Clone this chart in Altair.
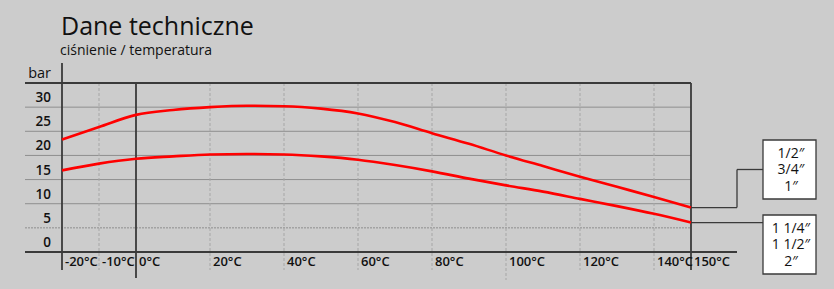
import altair as alt
import pandas as pd

# ---- data ----
temps = [-20, -10, 0, 10, 20, 30, 40, 50, 60, 70, 80, 90, 100, 110, 120, 130, 140, 150]
upper = [23.3, 25.9, 28.4, 29.4, 30.0, 30.3, 30.2, 29.7, 28.7, 26.9, 24.6, 22.4, 20.0, 17.8, 15.6, 13.5, 11.4, 9.2]
lower = [16.9, 18.3, 19.3, 19.8, 20.2, 20.3, 20.2, 19.8, 19.1, 18.0, 16.7, 15.2, 13.8, 12.5, 11.0, 9.5, 7.9, 6.1]
series_names = ["small", "large"]
box_labels = [["1/2″", "3/4″", "1″"], ["1 1/4″", "1 1/2″", "2″"]]

x_ticks = [-20, -10, 0, 20, 40, 60, 80, 100, 120, 140, 150]
x_labels = ["-20°C", "-10°C", "0°C", "20°C", "40°C", "60°C", "80°C", "100°C", "120°C", "140°C", "150°C"]
y_ticks = [0, 5, 10, 15, 20, 25, 30]
y_labels = ["0", "5", "10", "15", "20", "25", "30"]
title = "Dane techniczne"
subtitle = "ciśnienie / temperatura"
unit = "bar"

# ---- tables ----
curves = pd.DataFrame({
    "temp": temps * 2,
    "bar": upper + lower,
    "series": [series_names[0]] * len(temps) + [series_names[1]] * len(temps),
})
ends = pd.DataFrame({"series": series_names, "temp": [temps[-1]] * 2, "bar": [upper[-1], lower[-1]]})
xt = pd.DataFrame({"t": x_ticks, "label": x_labels})
yt = pd.DataFrame({"v": y_ticks, "label": y_labels})
one = pd.DataFrame({"k": [0]})

W, H = 629, 169
FONT = "Open Sans"
DARK = "#3a3a3a"
GRID = "#8e8e8e"
DASH = "#a6a6a6"

xs = alt.Scale(domain=[-20, 150], nice=False, zero=False)
ys = alt.Scale(domain=[0, 35], nice=False, zero=False)
X = alt.X("t:Q", scale=xs, axis=None)
Y = alt.Y("v:Q", scale=ys, axis=None)

layers = []

# horizontal grid lines
layers.append(alt.Chart(yt).transform_filter("datum.v >= 10").mark_rule(color=GRID, strokeWidth=1).encode(
    y=Y, x=alt.value(-37), x2=alt.value(W)))
layers.append(alt.Chart(yt).transform_filter("datum.v == 5").mark_rule(color=GRID, strokeWidth=1, strokeDash=[2, 1]).encode(
    y=Y, x=alt.value(-37), x2=alt.value(W)))

# vertical dashed grid lines
layers.append(alt.Chart(xt).transform_filter("datum.t != -20 && datum.t != 0 && datum.t != 150 && datum.t != 100")
              .mark_rule(color=DASH, strokeWidth=1, strokeDash=[3, 2]).encode(
    x=X, y=alt.value(0), y2=alt.value(187)))
layers.append(alt.Chart(xt).transform_filter("datum.t == 100")
              .mark_rule(color=DASH, strokeWidth=1, strokeDash=[3, 2]).encode(
    x=X, y=alt.value(0), y2=alt.value(197)))

# solid dark frame lines
layers.append(alt.Chart(xt).transform_filter("datum.t == -20").mark_rule(color=DARK, strokeWidth=1.8).encode(
    x=X, y=alt.value(-20), y2=alt.value(187)))
layers.append(alt.Chart(xt).transform_filter("datum.t == 0").mark_rule(color=DARK, strokeWidth=1.8).encode(
    x=X, y=alt.value(0), y2=alt.value(195)))
layers.append(alt.Chart(xt).transform_filter("datum.t == 150").mark_rule(color=DARK, strokeWidth=1.8).encode(
    x=X, y=alt.value(0), y2=alt.value(187)))
layers.append(alt.Chart(one).mark_rule(color=DARK, strokeWidth=1.8).encode(
    y=alt.value(0), x=alt.value(-37), x2=alt.value(W)))
layers.append(alt.Chart(yt).transform_filter("datum.v == 0").mark_rule(color=DARK, strokeWidth=1.8).encode(
    y=Y, x=alt.value(-37), x2=alt.value(675)))

# curves
layers.append(alt.Chart(curves).mark_line(color="#ff0000", strokeWidth=2.6, interpolate="monotone").encode(
    x=alt.X("temp:Q", scale=xs, axis=None),
    y=alt.Y("bar:Q", scale=ys, axis=None),
    detail="series:N"))

# leader lines
EY = alt.Y("bar:Q", scale=ys, axis=None)
layers.append(alt.Chart(ends).transform_filter(f"datum.series == '{series_names[0]}'")
              .mark_rule(color=DARK, strokeWidth=1.3).encode(y=EY, x=alt.value(W), x2=alt.value(675)))
layers.append(alt.Chart(ends).transform_filter(f"datum.series == '{series_names[0]}'")
              .mark_rule(color=DARK, strokeWidth=1.3).encode(x=alt.value(675), y=EY, y2=alt.value(86.5)))
layers.append(alt.Chart(one).mark_rule(color=DARK, strokeWidth=1.3).encode(
    y=alt.value(86.5), x=alt.value(675), x2=alt.value(701)))
layers.append(alt.Chart(ends).transform_filter(f"datum.series == '{series_names[1]}'")
              .mark_rule(color=DARK, strokeWidth=1.3).encode(y=EY, x=alt.value(W), x2=alt.value(701)))

# boxes
box_tops = [57, 132]
for b, top in enumerate(box_tops):
    layers.append(alt.Chart(one).mark_rect(fill="white", stroke=DARK, strokeWidth=1.3).encode(
        x=alt.value(701), x2=alt.value(754), y=alt.value(top), y2=alt.value(top + 59)))
    for i, line in enumerate(box_labels[b]):
        layers.append(alt.Chart(one).mark_text(font=FONT, fontSize=14, color="#111", align="center",
                                               baseline="middle").encode(
            x=alt.value(729), y=alt.value(top + 13.5 + i * 16.5), text=alt.value(line)))

# tick labels
layers.append(alt.Chart(xt).mark_text(font=FONT, fontSize=13, fontWeight=600, color="#111",
                                      align="left", baseline="middle", dx=3).encode(
    x=X, y=alt.value(179), text="label:N"))
layers.append(alt.Chart(yt).mark_text(font=FONT, fontSize=13.5, fontWeight=600, color="#111",
                                      align="right", baseline="middle", dy=-9).encode(
    y=Y, x=alt.value(-11), text="label:N"))
layers.append(alt.Chart(one).mark_text(font=FONT, fontSize=14.5, color="#111", align="right", baseline="middle").encode(
    x=alt.value(-11), y=alt.value(-9), text=alt.value(unit)))

# titles
layers.append(alt.Chart(one).mark_text(font=FONT, fontSize=25, color="#111", align="left", baseline="alphabetic").encode(
    x=alt.value(-1), y=alt.value(-48), text=alt.value(title)))
layers.append(alt.Chart(one).mark_text(font=FONT, fontSize=14, color="#111", align="left", baseline="alphabetic").encode(
    x=alt.value(-2), y=alt.value(-28), text=alt.value(subtitle)))

chart = alt.layer(*layers).properties(
    width=W, height=H,
    autosize=alt.AutoSizeParams(type="none"),
    padding={"left": 62, "top": 83, "right": 143, "bottom": 37},
    background="#cccccc",
).configure_view(stroke=None)

chart.save("out.html", embed_options={"renderer": "svg", "actions": False})
